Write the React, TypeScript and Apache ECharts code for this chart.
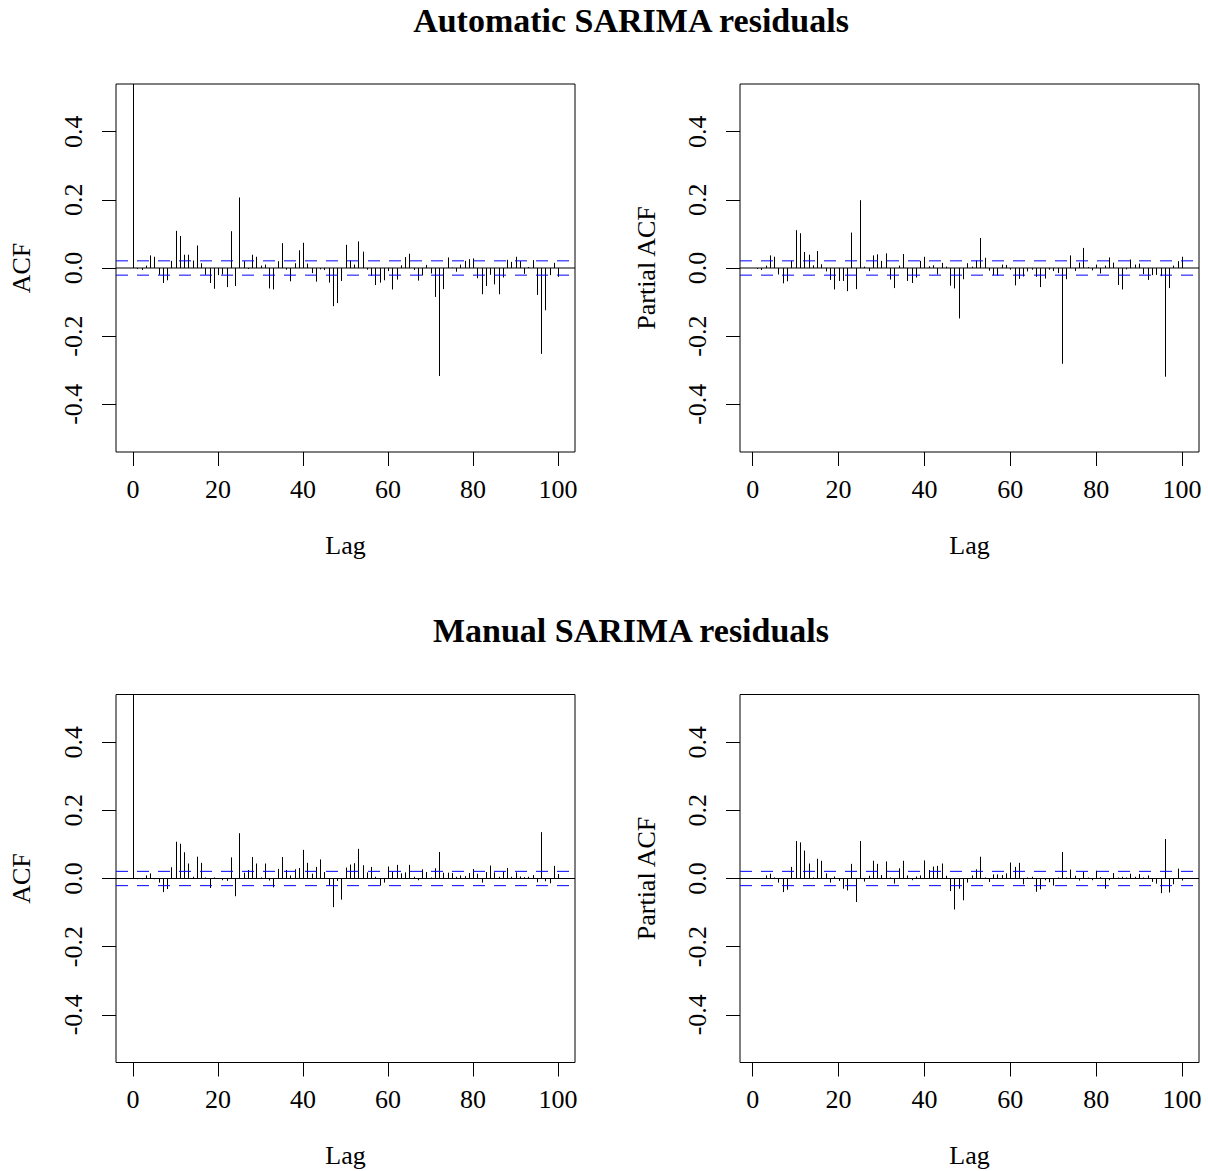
import React, { useEffect, useRef } from "react";
import * as echarts from "echarts";

// ---- data ----
const xTicks = [0, 20, 40, 60, 80, 100];
const yTicks = [-0.4, -0.2, 0, 0.2, 0.4];
const ciLimit = 0.021;

// Automatic SARIMA residuals, ACF, lags 0..100
const acfAuto = [
  1, -0.003, -0.006, 0.007, 0.037, 0.033, -0.02, -0.044, -0.036, 0.021,
  0.109, 0.094, 0.039, 0.039, 0.022, 0.066, 0.014, -0.02, -0.044, -0.061,
  -0.021, -0.019, -0.056, 0.108, -0.053, 0.207, 0.02, -0.003, 0.039, 0.033,
  0.007, 0.01, -0.06, -0.063, 0.02, 0.073, -0.005, -0.039, 0.014, 0.052,
  0.074, 0.013, -0.015, -0.04, -0.004, -0.006, -0.043, -0.112, -0.103, -0.038,
  0.068, 0.022, 0.01, 0.078, 0.048, -0.005, -0.023, -0.05, -0.043, -0.036,
  -0.009, -0.063, -0.034, 0.008, 0.032, 0.042, -0.006, -0.037, -0.022, 0.009,
  -0.016, -0.085, -0.317, -0.062, 0.031, 0.001, -0.011, 0.01, 0.021, 0.026,
  0.028, -0.03, -0.077, -0.053, -0.02, -0.048, -0.077, -0.028, 0.024, 0.018,
  0.033, 0.02, -0.017, 0.003, 0.023, -0.079, -0.252, -0.124, -0.021, 0.015,
  -0.026,
];

// Automatic SARIMA residuals, PACF, lags 1..100
const pacfAuto = [
  -0.003, -0.006, 0.007, 0.037, 0.033, -0.019, -0.045, -0.039, 0.021, 0.111,
  0.102, 0.047, 0.039, 0.008, 0.05, 0.011, -0.01, -0.035, -0.063, -0.038,
  -0.038, -0.068, 0.104, -0.062, 0.199, 0.004, -0.009, 0.037, 0.04, 0.021,
  0.043, -0.034, -0.059, 0.007, 0.041, -0.038, -0.044, -0.028, 0.021, 0.033,
  0.005, 0.008, -0.019, 0.015, 0.004, -0.052, -0.06, -0.148, -0.033, 0.014,
  0.004, 0.022, 0.088, 0.03, -0.008, -0.021, -0.022, 0.01, 0.009, -0.005,
  -0.051, -0.032, -0.025, -0.01, -0.005, -0.026, -0.056, -0.031, -0.005, -0.009,
  -0.015, -0.281, -0.033, 0.037, -0.009, 0.016, 0.059, 0.003, -0.007, 0.01,
  -0.016, 0.007, 0.031, 0.016, -0.05, -0.063, -0.004, 0.025, 0.01, 0.013,
  -0.018, -0.035, -0.021, -0.02, -0.024, -0.319, -0.059, 0.007, 0.02, 0.033,
];

// Manual SARIMA residuals, ACF, lags 0..100
const acfManual = [
  1, -0.002, -0.002, 0.009, 0.015, -0.002, -0.012, -0.04, -0.031, 0.033,
  0.108, 0.102, 0.077, 0.044, 0.005, 0.064, 0.046, 0.003, -0.028, 0.003,
  0.001, -0.005, -0.007, 0.062, -0.052, 0.133, 0.017, 0.025, 0.063, 0.044,
  0.003, 0.044, -0.006, -0.026, 0.028, 0.063, 0.025, 0.009, 0.027, 0.031,
  0.084, 0.046, 0.014, 0.034, 0.056, 0.019, -0.021, -0.084, -0.007, -0.062,
  0.032, 0.041, 0.045, 0.087, 0.039, 0.018, 0.034, 0.005, -0.021, -0.012,
  0.035, 0.02, 0.04, 0.015, 0.018, 0.04, 0.005, -0.005, 0.027, 0.019,
  0.003, 0.03, 0.078, 0.017, 0.017, 0.016, 0.005, 0.009, 0.007, 0.016,
  0.028, 0.014, -0.012, 0.019, 0.038, 0.018, 0.005, 0.02, 0.031, 0.005,
  0.018, 0.006, 0.004, 0.005, 0.01, -0.011, 0.136, -0.008, -0.014, 0.037,
  0.013,
];

// Manual SARIMA residuals, PACF, lags 1..100
const pacfManual = [
  -0.001, -0.001, 0.009, 0.014, 0.003, -0.012, -0.04, -0.033, 0.034, 0.11,
  0.106, 0.082, 0.044, 0.003, 0.058, 0.052, 0.015, -0.012, 0.006, -0.007,
  -0.03, -0.035, 0.043, -0.069, 0.11, -0.009, 0.008, 0.052, 0.043, 0.01,
  0.05, 0.003, -0.015, 0.03, 0.052, 0.009, -0.005, 0.006, 0.009, 0.053,
  0.025, 0.035, 0.037, 0.044, 0.008, -0.037, -0.091, -0.03, -0.064, -0.012,
  0.009, 0.027, 0.064, 0.003, -0.01, 0.012, 0.012, 0.01, 0.015, 0.047,
  0.034, 0.046, -0.017, 0.003, 0.005, -0.039, -0.032, -0.005, -0.011, -0.021,
  0.003, 0.078, 0.003, 0.026, 0.008, -0.006, 0.019, 0.003, -0.005, 0.023,
  0.004, -0.03, -0.005, 0.016, 0.003, 0.005, 0.003, 0.014, 0.005, 0.013,
  0.003, 0.009, -0.01, -0.015, -0.043, 0.116, -0.041, -0.017, 0.029, -0.006,
];

const titles = ["Automatic SARIMA residuals", "Manual SARIMA residuals"];

const FONT = '"Liberation Serif", "Times New Roman", serif';

type Panel = {
  values: number[];
  firstLag: number;
  left: number;
  top: number;
  xMin: number;
  xMax: number;
  yName: string;
  yNameX: number;
};

const PW = 459;
const PH = 368;
const ROW2 = 610.5;

const panels: Panel[] = [
  { values: acfAuto, firstLag: 0, left: 116, top: 84, xMin: -4, xMax: 104, yName: "ACF", yNameX: 21 },
  { values: pacfAuto, firstLag: 1, left: 740, top: 84, xMin: -2.96, xMax: 103.96, yName: "Partial ACF", yNameX: 646 },
  { values: acfManual, firstLag: 0, left: 116, top: 84 + ROW2, xMin: -4, xMax: 104, yName: "ACF", yNameX: 21 },
  { values: pacfManual, firstLag: 1, left: 740, top: 84 + ROW2, xMin: -2.96, xMax: 103.96, yName: "Partial ACF", yNameX: 646 },
];

function buildOption() {
  const grid: any[] = [];
  const xAxis: any[] = [];
  const yAxis: any[] = [];
  const series: any[] = [];
  const graphic: any[] = [];

  panels.forEach((p, k) => {
    grid.push({
      left: p.left,
      top: p.top,
      width: PW,
      height: PH,
      show: true,
      borderColor: "#000",
      borderWidth: 1,
      backgroundColor: "transparent",
      containLabel: false,
    });
    xAxis.push({
      type: "value",
      gridIndex: k,
      min: p.xMin,
      max: p.xMax,
      splitLine: { show: false },
      axisLine: { show: false, onZero: false },
      axisTick: {
        show: true,
        inside: false,
        length: 14,
        customValues: xTicks,
        lineStyle: { color: "#000", width: 1 },
      },
      axisLabel: {
        show: true,
        customValues: xTicks,
        margin: 24,
        fontSize: 26,
        fontFamily: FONT,
        color: "#000",
        formatter: (v: number) => String(v),
      },
    });
    yAxis.push({
      type: "value",
      gridIndex: k,
      min: -0.54,
      max: 0.54,
      splitLine: { show: false },
      axisLine: { show: false, onZero: false },
      axisTick: {
        show: true,
        inside: false,
        length: 14,
        customValues: yTicks,
        lineStyle: { color: "#000", width: 1 },
      },
      axisLabel: {
        show: true,
        customValues: yTicks,
        rotate: 90,
        margin: 30,
        fontSize: 26,
        fontFamily: FONT,
        color: "#000",
        formatter: (v: number) => v.toFixed(1),
      },
    });

    series.push({
      type: "custom",
      xAxisIndex: k,
      yAxisIndex: k,
      clip: true,
      silent: true,
      data: p.values.map((v, i) => [p.firstLag + i, v]),
      renderItem: (params: any, api: any) => {
        const lag = api.value(0);
        const val = api.value(1);
        const a = api.coord([lag, 0]);
        const b = api.coord([lag, val]);
        const x = Math.round(a[0]) + 0.5;
        return {
          type: "line",
          shape: { x1: x, y1: a[1], x2: x, y2: b[1] },
          style: { stroke: "#000", lineWidth: 1 },
        };
      },
    });
    series.push({
      type: "line",
      xAxisIndex: k,
      yAxisIndex: k,
      silent: true,
      symbol: "none",
      data: [
        [p.xMin, 0],
        [p.xMax, 0],
      ],
      lineStyle: { color: "#000", width: 1 },
    });
    [ciLimit, -ciLimit].forEach((c) => {
      series.push({
        type: "line",
        xAxisIndex: k,
        yAxisIndex: k,
        silent: true,
        symbol: "none",
        data: [
          [p.xMin, c],
          [p.xMax, c],
        ],
        lineStyle: { color: "#0000ff", width: 1, type: [12, 9] },
      });
    });

    graphic.push({
      type: "text",
      x: p.left + PW / 2,
      y: p.top + 461,
      style: {
        text: "Lag",
        fontSize: 26,
        fontFamily: FONT,
        fill: "#000",
        align: "center",
        verticalAlign: "middle",
        textAlign: "center",
        textVerticalAlign: "middle",
      },
    });
    graphic.push({
      type: "text",
      x: p.yNameX,
      y: p.top + PH / 2,
      rotation: Math.PI / 2,
      style: {
        text: p.yName,
        fontSize: 26,
        fontFamily: FONT,
        fill: "#000",
        align: "center",
        verticalAlign: "middle",
        textAlign: "center",
        textVerticalAlign: "middle",
      },
    });
  });

  titles.forEach((t, r) => {
    graphic.push({
      type: "text",
      x: 631,
      y: 20 + r * ROW2,
      style: {
        text: t,
        fontSize: 34,
        fontWeight: "bold",
        fontFamily: FONT,
        fill: "#000",
        align: "center",
        verticalAlign: "middle",
        textAlign: "center",
        textVerticalAlign: "middle",
      },
    });
  });

  return {
    animation: false,
    backgroundColor: "#ffffff",
    grid,
    xAxis,
    yAxis,
    series,
    graphic,
  };
}

export default function App() {
  const ref = useRef<HTMLDivElement>(null);
  useEffect(() => {
    if (!ref.current) return;
    const chart = echarts.init(ref.current, undefined, { renderer: "svg" });
    chart.setOption(buildOption() as any);
    return () => {
      chart.dispose();
    };
  }, []);
  return (
    <div
      ref={ref}
      style={{ position: "absolute", left: 0, top: 0, width: 1208, height: 1171, background: "#fff" }}
    />
  );
}
